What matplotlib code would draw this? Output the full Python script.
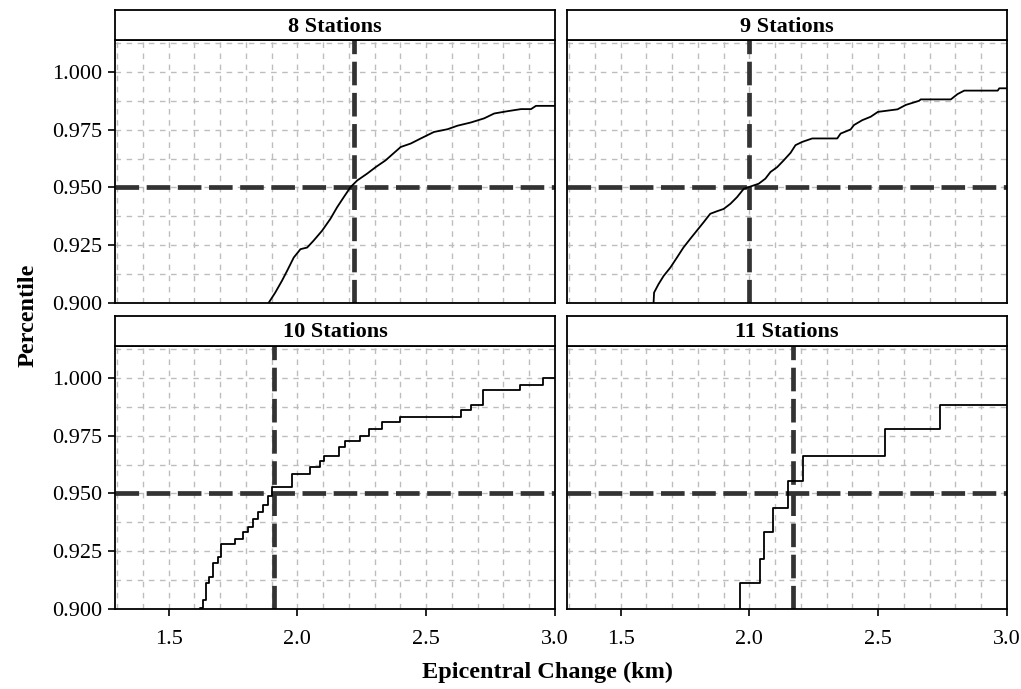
import numpy as np
import matplotlib.pyplot as plt

plt.rcParams['font.family'] = ['Liberation Serif', 'DejaVu Serif']

# panel labels and 95th-percentile cut-offs
panel_titles = ['8 Stations', '9 Stations', '10 Stations', '11 Stations']
cut_x = [2.22, 2.00, 1.91, 2.17]
cut_y = 0.95

# 8 stations (fine steps)
x8 = [1.86, 1.888, 1.914, 1.940, 1.960, 1.986, 2.012, 2.038, 2.063, 2.096, 2.128,
      2.154, 2.180, 2.206, 2.232, 2.271, 2.304, 2.342, 2.401, 2.440, 2.479, 2.530,
      2.583, 2.621, 2.673, 2.725, 2.764, 2.816, 2.868, 2.907, 2.926, 3.0]
y8 = [0.890, 0.900, 0.9045, 0.9096, 0.9139, 0.9197, 0.9233, 0.9240, 0.9270, 0.9313, 0.9364,
      0.9414, 0.9458, 0.9501, 0.9530, 0.9560, 0.9588, 0.9617, 0.9675, 0.9690, 0.9712, 0.9740,
      0.9752, 0.9767, 0.9781, 0.9799, 0.9820, 0.9830, 0.9839, 0.9839, 0.9853, 0.9853]

# 9 stations
x9 = [1.626, 1.628, 1.630, 1.647, 1.667, 1.693, 1.719, 1.744, 1.770, 1.796, 1.822,
      1.848, 1.874, 1.900, 1.926, 1.952, 1.978, 2.004, 2.036, 2.062, 2.082, 2.108,
      2.133, 2.160, 2.179, 2.205, 2.244, 2.341, 2.354, 2.393, 2.406, 2.438, 2.471,
      2.499, 2.575, 2.607, 2.659, 2.665, 2.782, 2.808, 2.834, 2.964, 2.970, 3.0]
y9 = [0.890, 0.900, 0.9045, 0.9081, 0.9117, 0.9153, 0.9197, 0.9240, 0.9277, 0.9313, 0.9349,
      0.9386, 0.9397, 0.9407, 0.9429, 0.9458, 0.9494, 0.9504, 0.9516, 0.9538, 0.9567, 0.9588,
      0.9617, 0.9650, 0.9683, 0.9697, 0.9712, 0.9712, 0.9733, 0.9751, 0.9770, 0.9791, 0.9806,
      0.9827, 0.9838, 0.9857, 0.9875, 0.9881, 0.9881, 0.9904, 0.9919, 0.9919, 0.9929, 0.9929]

# 10 stations (jump position, value after jump)
x10 = [1.60, 1.621, 1.634, 1.647, 1.656, 1.673, 1.690, 1.705, 1.757, 1.790, 1.809,
       1.829, 1.848, 1.868, 1.887, 1.900, 1.978, 2.049, 2.089, 2.102, 2.160, 2.186,
       2.244, 2.277, 2.329, 2.400, 2.636, 2.672, 2.720, 2.866, 2.955, 3.0]
y10 = [0.895, 0.9005, 0.9039, 0.9111, 0.9139, 0.9197, 0.9225, 0.9280, 0.9303, 0.9333, 0.9355,
       0.9391, 0.9419, 0.9448, 0.9491, 0.9527, 0.9585, 0.9613, 0.9642, 0.9664, 0.9700, 0.9728,
       0.9750, 0.9779, 0.9807, 0.9829, 0.9862, 0.9884, 0.9947, 0.9970, 1.0000, 1.0000]

# 11 stations
x11 = [1.90, 1.964, 2.042, 2.055, 2.093, 2.149, 2.210, 2.528, 2.739, 3.0]
y11 = [0.890, 0.9111, 0.9218, 0.9333, 0.9438, 0.9556, 0.9664, 0.9779, 0.9882, 0.9882]

curves = [(x8, y8, None), (x9, y9, None), (x10, y10, 'post'), (x11, y11, 'post')]

W, H = 1021, 689
fig = plt.figure(figsize=(W / 100, H / 100), dpi=100)

panel_left = [115, 567, 115, 567]
panel_top = [40, 40, 346, 346]
panel_w, panel_h, strip_h = 440, 263, 30

for i in range(4):
    l, t = panel_left[i], panel_top[i]
    ax = fig.add_axes([l / W, 1 - (t + panel_h) / H, panel_w / W, panel_h / H])
    st = fig.add_axes([l / W, 1 - t / H, panel_w / W, strip_h / H])
    st.set_xticks([])
    st.set_yticks([])
    for s in st.spines.values():
        s.set_linewidth(1.3)
    st.text(0.5, 0.45, panel_titles[i], ha='center', va='center',
            fontsize=16, fontweight='bold', transform=st.transAxes)

    ax.set_xlim(1.292, 3.0)
    ax.set_ylim(0.9, 1.0138)

    # grid
    for gx in np.arange(1.3, 3.0, 0.1):
        ax.axvline(gx, color='#bdbdbd', lw=1.0, ls=(0, (4, 4)), zorder=0)
    for gy in np.arange(0.9125, 1.013, 0.0125):
        ax.axhline(gy, color='#bdbdbd', lw=1.0, ls=(0, (4, 4)), zorder=0)

    # cut-off lines
    ax.axvline(cut_x[i], color='#333333', lw=3.4, ls=(0, (5, 1.6)), zorder=2)
    ax.axhline(cut_y, color='#333333', lw=3.4, ls=(0, (5, 1.6)), zorder=2)

    cx, cy, where = curves[i]
    if where:
        ax.step(cx, cy, where=where, color='black', lw=1.3, zorder=3)
    else:
        ax.plot(cx, cy, color='black', lw=1.3, zorder=3)

    for s in ax.spines.values():
        s.set_linewidth(1.3)

    ax.set_xticks([1.5, 2.0, 2.5, 3.0])
    ax.set_yticks([0.900, 0.925, 0.950, 0.975, 1.000])
    ax.tick_params(direction='out', length=5, width=1.2, labelsize=16)
    ax.tick_params(axis='x', pad=10)
    ax.tick_params(axis='y', pad=4)
    if i < 2:
        ax.tick_params(axis='x', length=0, labelbottom=False)
    else:
        ax.set_xticklabels(['1.5', '2.0', '2.5', '3.0'])
    if i % 2 == 1:
        ax.tick_params(axis='y', length=0, labelleft=False)
    else:
        ax.set_yticklabels(['0.900', '0.925', '0.950', '0.975', '1.000'])

fig.text(28 / W, 1 - 315 / H, 'Percentile', rotation=90, ha='center', va='center',
         fontsize=17.5, fontweight='bold')
fig.text(548 / W, 1 - 672 / H, 'Epicentral Change (km)', ha='center', va='center',
         fontsize=17.5, fontweight='bold')

fig.savefig('out.png', dpi=100)
